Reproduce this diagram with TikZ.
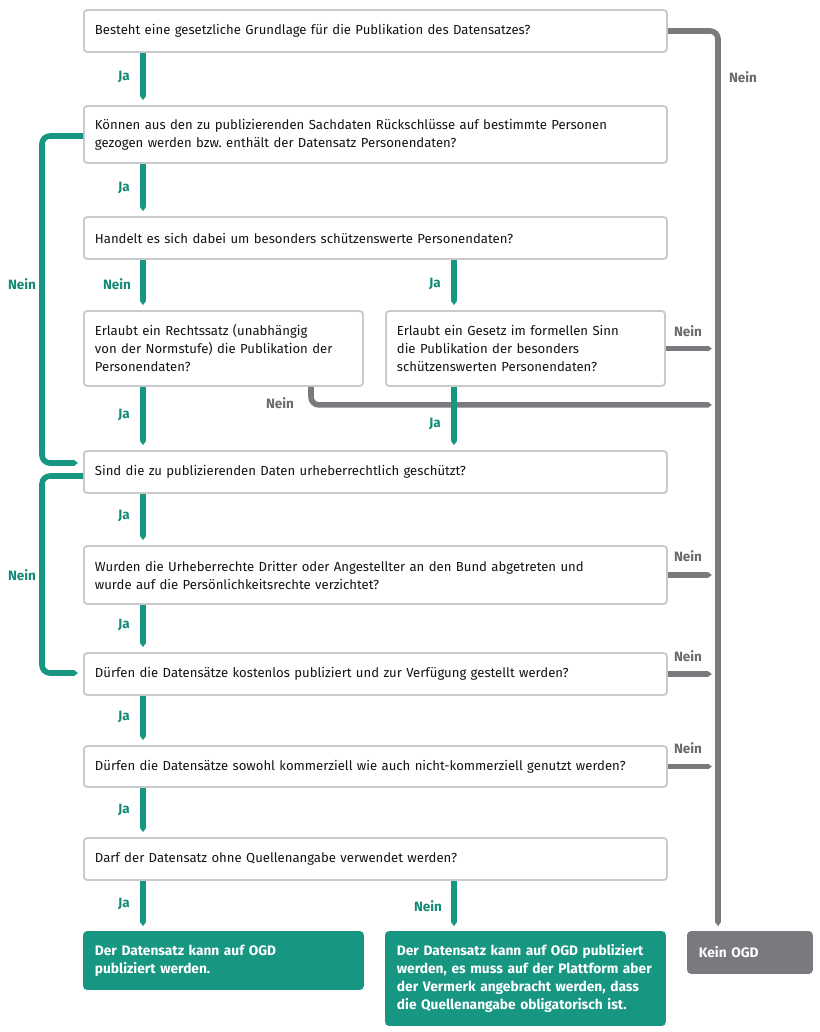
\documentclass[tikz,border=0pt]{standalone}
\usepackage{fontspec}
\setmainfont{Fira Sans}
\usetikzlibrary{arrows.meta,calc}
\definecolor{tealf}{RGB}{23,150,130}
\definecolor{tealt}{RGB}{20,138,118}
\definecolor{grayl}{RGB}{122,122,126}
\definecolor{grayt}{RGB}{105,106,110}
\definecolor{boxgray}{RGB}{202,202,204}
\definecolor{ink}{RGB}{20,20,24}
\begin{document}
\begin{tikzpicture}[x=0.75pt,y=-0.75pt,
  every node/.style={font=\fontsize{9.85pt}{13.5pt}\selectfont},
  qbox/.style={draw=boxgray, line width=1.4pt, rounded corners=2.5pt, fill=white, text=ink,
    anchor=west, align=left, inner xsep=8.25pt, inner ysep=0pt},
  wbox/.style={qbox, text width=420.75pt},
  hbox/.style={qbox, text width=192.75pt},
  gbox/.style={qbox, draw=tealf, fill=tealf, text=white, font=\fontsize{10.3pt}{13.5pt}\selectfont\bfseries, text width=192.75pt},
  kbox/.style={qbox, draw=grayl, fill=grayl, text=white, font=\fontsize{10.3pt}{13.5pt}\selectfont\bfseries, text width=76.5pt},
  glab/.style={text=tealt, font=\fontsize{10.1pt}{12pt}\selectfont\bfseries, inner sep=0pt},
  ylab/.style={text=grayt, font=\fontsize{10.1pt}{12pt}\selectfont\bfseries, inner sep=0pt},
  garrow/.style={draw=tealf, line width=4.2pt, -{Triangle[length=3pt,width=0pt 1]}},
  yarrow/.style={draw=grayl, line width=4.2pt, -{Triangle[length=3pt,width=0pt 1]}},
  corner/.style={rounded corners=6pt}
]
\useasboundingbox[fill=white] (0,0) rectangle (819,1032);

% question boxes
\node[wbox, minimum height=31.5pt] (q1) at (83,31) {Besteht eine gesetzliche Grundlage für die Publikation des Datensatzes?};
\node[wbox, minimum height=42.75pt] (q2) at (83,134.5) {Können aus den zu publizierenden Sachdaten Rückschlüsse auf bestimmte Personen\\gezogen werden bzw.\ enthält der Datensatz Personendaten?};
\node[wbox, minimum height=31.5pt] (q3) at (83,238) {Handelt es sich dabei um besonders schützenswerte Personendaten?};
\node[hbox, minimum height=56.25pt] (q4a) at (83,348.5) {Erlaubt ein Rechtssatz (unabhängig\\von der Normstufe) die Publikation der\\Personendaten?};
\node[hbox, minimum height=56.25pt] (q4b) at (385,348.5) {Erlaubt ein Gesetz im formellen Sinn\\die Publikation der besonders\\schützenswerten Personendaten?};
\node[wbox, minimum height=31.5pt] (q5) at (83,472) {Sind die zu publizierenden Daten urheberrechtlich geschützt?};
\node[wbox, minimum height=43.5pt] (q6) at (83,575) {Wurden die Urheberrechte Dritter oder Angestellter an den Bund abgetreten und\\wurde auf die Persönlichkeitsrechte verzichtet?};
\node[wbox, minimum height=31.5pt] (q7) at (83,674) {Dürfen die Datensätze kostenlos publiziert und zur Verfügung gestellt werden?};
\node[wbox, minimum height=30.75pt] (q8) at (83,766.5) {Dürfen die Datensätze sowohl kommerziell wie auch nicht-kommerziell genutzt werden?};
\node[wbox, minimum height=31.5pt] (q9) at (83,859) {Darf der Datensatz ohne Quellenangabe verwendet werden?};

% result boxes
\node[gbox, minimum height=42.75pt] (g1) at (83,960.5) {Der Datensatz kann auf OGD\\publiziert werden.};
\node[gbox, minimum height=69.75pt] (g2) at (385,978.5) {Der Datensatz kann auf OGD publiziert\\werden, es muss auf der Plattform aber\\der Vermerk angebracht werden, dass\\die Quellenangabe obligatorisch ist.};
\node[kbox, minimum height=30.75pt] (k) at (687,952.5) {Kein OGD};

% gray "Nein" connectors
\draw[yarrow, corner] (q1.east) -| ($(k.north west)+(31,-5)$);
\draw[yarrow] (q4b.east) -- ($(q4b.east)+(46,0)$);
\draw[yarrow, corner] ($(q4a.south west)+(228,0)$) |- ($(q4b.south east)+(46,18)$);
\draw[yarrow] (q6.east) -- ($(q6.east)+(44,0)$);
\draw[yarrow] (q7.east) -- ($(q7.east)+(44,0)$);
\draw[yarrow] (q8.east) -- ($(q8.east)+(44,0)$);

% green "Ja" connectors
\draw[garrow] ($(q1.south west)+(60,0)$) -- ($(q2.north west)+(60,-5)$);
\draw[garrow] ($(q2.south west)+(60,0)$) -- ($(q3.north west)+(60,-5)$);
\draw[garrow] ($(q3.south west)+(60,0)$) -- ($(q4a.north west)+(60,-5)$);
\draw[garrow] ($(q3.south west)+(371,0)$) -- ($(q4b.north west)+(69,-5)$);
\draw[garrow] ($(q4a.south west)+(60,0)$) -- ($(q5.north west)+(60,-5)$);
\draw[garrow] ($(q4b.south west)+(69,0)$) -- ($(q5.north west)+(371,-5)$);
\draw[garrow] ($(q5.south west)+(60,0)$) -- ($(q6.north west)+(60,-5)$);
\draw[garrow] ($(q6.south west)+(60,0)$) -- ($(q7.north west)+(60,-5)$);
\draw[garrow] ($(q7.south west)+(60,0)$) -- ($(q8.north west)+(60,-5)$);
\draw[garrow] ($(q8.south west)+(60,0)$) -- ($(q9.north west)+(60,-5)$);
\draw[garrow] ($(q9.south west)+(60,0)$) -- ($(g1.north west)+(60,-5)$);
\draw[garrow] ($(q9.south west)+(371,0)$) -- ($(g2.north west)+(69,-5)$);

% left brackets
\draw[garrow, corner] ($(q2.west)+(0,1.5)$) -- ($(q2.west)+(-41,1.5)$) |- ($(q5.west)+(-5,-9)$);
\draw[garrow, corner] ($(q5.west)+(0,4)$) -- ($(q5.west)+(-41,4)$) |- ($(q7.west)+(-5,-1)$);

% labels
\node[glab] (l1) at (124,77) {Ja};
\node[glab] (l2) at (124,188) {Ja};
\node[glab] (l3) at (117,284) {Nein};
\node[glab] (l4) at (435,284) {Ja};
\node[glab] (l5) at (124,415) {Ja};
\node[glab] (l6) at (435,424) {Ja};
\node[glab] (l7) at (124,516) {Ja};
\node[glab] (l8) at (124,625) {Ja};
\node[glab] (l9) at (124,717) {Ja};
\node[glab] (l10) at (124,810) {Ja};
\node[glab] (l11) at (124,904) {Ja};
\node[glab] (l12) at (428,906) {Nein};
\node[glab] (l13) at (22,284) {Nein};
\node[glab] (l14) at (22,575) {Nein};
\node[ylab] (n1) at (743,77) {Nein};
\node[ylab] (n2) at (688,331) {Nein};
\node[ylab] (n3) at (280,403) {Nein};
\node[ylab] (n4) at (688,556) {Nein};
\node[ylab] (n5) at (688,656) {Nein};
\node[ylab] (n6) at (688,748) {Nein};
\end{tikzpicture}
\end{document}
